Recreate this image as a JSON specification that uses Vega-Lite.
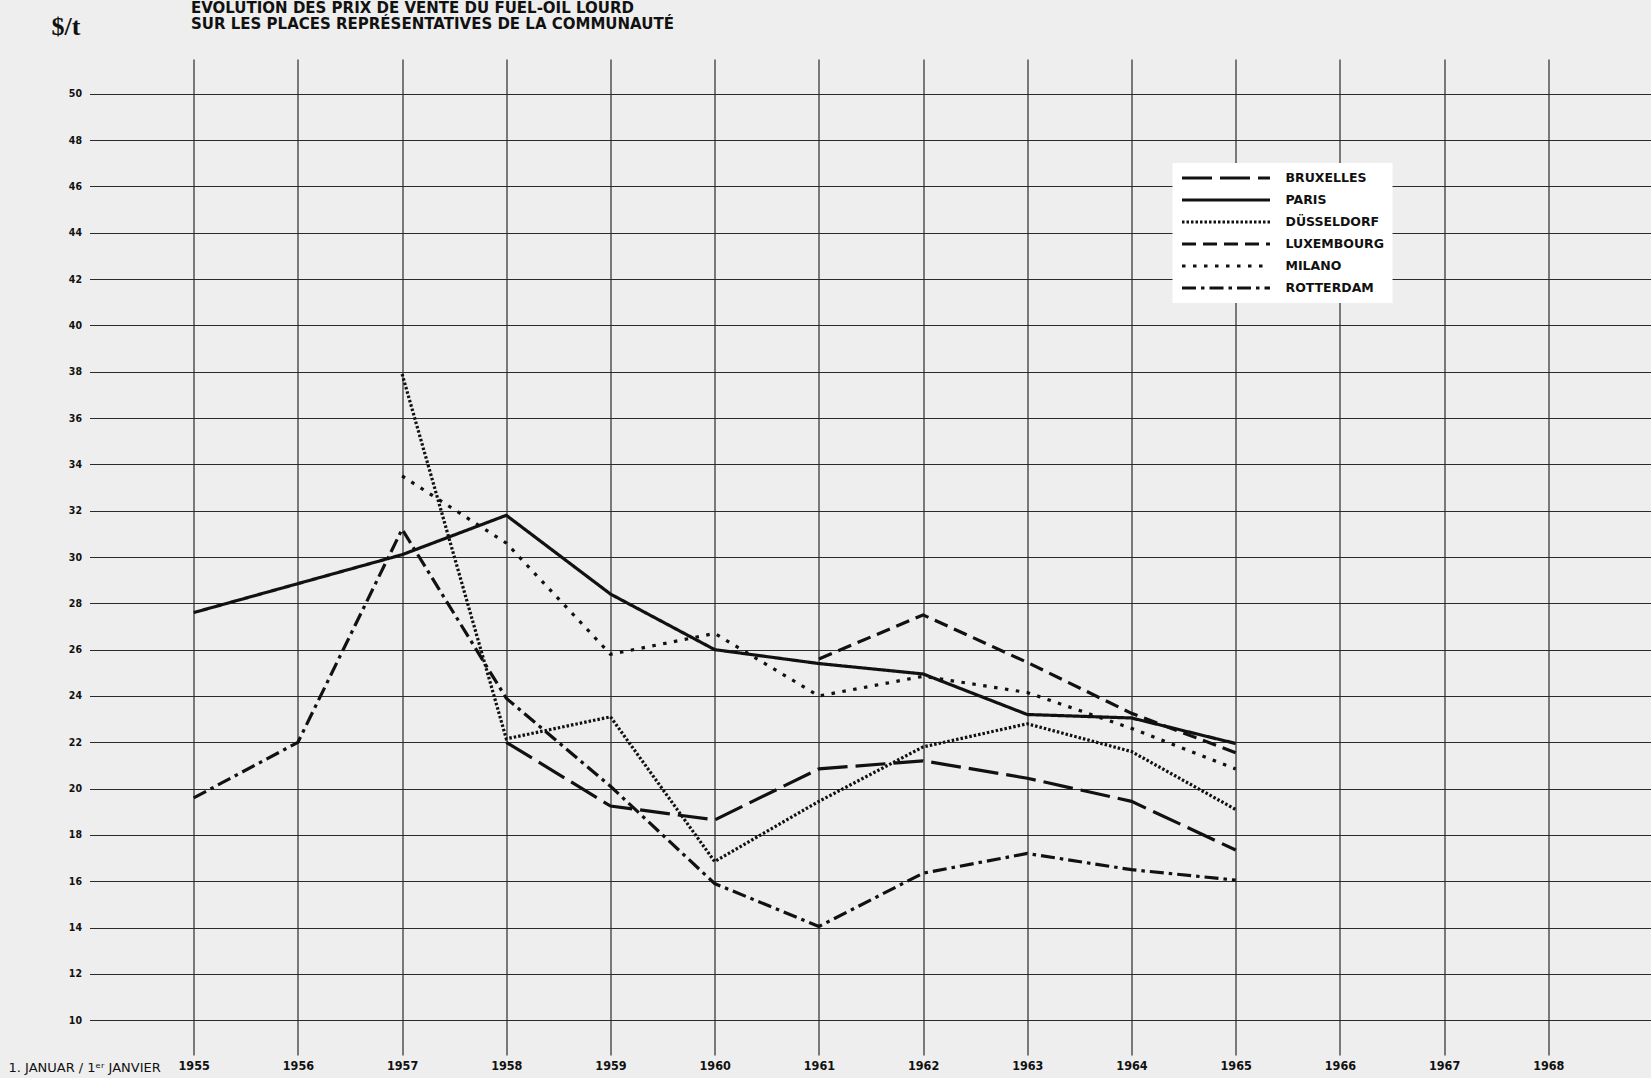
{
  "$schema": "https://vega.github.io/schema/vega-lite/v6.json",
  "width": 1563,
  "height": 996,
  "autosize": {"type": "none"},
  "padding": {"left": 89.5, "top": 59, "right": 0, "bottom": 23},
  "background": "#eeeeee",
  "config": {
    "view": {"stroke": null, "fill": "#eeeeee"},
    "axis": {"domain": false, "ticks": false, "gridColor": "#2a2a2a", "gridWidth": 1.2, "gridOpacity": 1}
  },
  "title": {
    "text": ["ÉVOLUTION DES PRIX DE VENTE DU FUEL-OIL LOURD", "SUR LES PLACES REPRÉSENTATIVES DE LA COMMUNAUTÉ"],
    "anchor": "start",
    "frame": "group",
    "dx": 101.5,
    "dy": 70,
    "font": "DejaVu Sans",
    "fontSize": 15,
    "fontWeight": "bold",
    "lineHeight": 16,
    "color": "#111111",
    "baseline": "bottom",
    "offset": 36
  },
  "data": {
    "values": [
      {"city": "PARIS", "year": 1955, "price": 27.6},
      {"city": "PARIS", "year": 1956, "price": 28.85},
      {"city": "PARIS", "year": 1957, "price": 30.1},
      {"city": "PARIS", "year": 1958, "price": 31.8},
      {"city": "PARIS", "year": 1959, "price": 28.4},
      {"city": "PARIS", "year": 1960, "price": 26.0},
      {"city": "PARIS", "year": 1961, "price": 25.4},
      {"city": "PARIS", "year": 1962, "price": 24.95},
      {"city": "PARIS", "year": 1963, "price": 23.2},
      {"city": "PARIS", "year": 1964, "price": 23.05},
      {"city": "PARIS", "year": 1965, "price": 21.95},
      {"city": "MILANO", "year": 1957, "price": 33.5},
      {"city": "MILANO", "year": 1958, "price": 30.6},
      {"city": "MILANO", "year": 1959, "price": 25.8},
      {"city": "MILANO", "year": 1960, "price": 26.7},
      {"city": "MILANO", "year": 1961, "price": 24.0},
      {"city": "MILANO", "year": 1962, "price": 24.85},
      {"city": "MILANO", "year": 1963, "price": 24.15},
      {"city": "MILANO", "year": 1964, "price": 22.6},
      {"city": "MILANO", "year": 1965, "price": 20.85},
      {"city": "DÜSSELDORF", "year": 1957, "price": 37.9},
      {"city": "DÜSSELDORF", "year": 1958, "price": 22.15},
      {"city": "DÜSSELDORF", "year": 1959, "price": 23.1},
      {"city": "DÜSSELDORF", "year": 1960, "price": 16.85},
      {"city": "DÜSSELDORF", "year": 1961, "price": 19.45},
      {"city": "DÜSSELDORF", "year": 1962, "price": 21.8},
      {"city": "DÜSSELDORF", "year": 1963, "price": 22.8},
      {"city": "DÜSSELDORF", "year": 1964, "price": 21.6},
      {"city": "DÜSSELDORF", "year": 1965, "price": 19.1},
      {"city": "ROTTERDAM", "year": 1955, "price": 19.6},
      {"city": "ROTTERDAM", "year": 1956, "price": 22.0},
      {"city": "ROTTERDAM", "year": 1957, "price": 31.2},
      {"city": "ROTTERDAM", "year": 1958, "price": 23.9},
      {"city": "ROTTERDAM", "year": 1959, "price": 20.1},
      {"city": "ROTTERDAM", "year": 1960, "price": 15.9},
      {"city": "ROTTERDAM", "year": 1961, "price": 14.05},
      {"city": "ROTTERDAM", "year": 1962, "price": 16.35},
      {"city": "ROTTERDAM", "year": 1963, "price": 17.2},
      {"city": "ROTTERDAM", "year": 1964, "price": 16.5},
      {"city": "ROTTERDAM", "year": 1965, "price": 16.05},
      {"city": "BRUXELLES", "year": 1958, "price": 22.0},
      {"city": "BRUXELLES", "year": 1959, "price": 19.25},
      {"city": "BRUXELLES", "year": 1960, "price": 18.65},
      {"city": "BRUXELLES", "year": 1961, "price": 20.85},
      {"city": "BRUXELLES", "year": 1962, "price": 21.2},
      {"city": "BRUXELLES", "year": 1963, "price": 20.45},
      {"city": "BRUXELLES", "year": 1964, "price": 19.45},
      {"city": "BRUXELLES", "year": 1965, "price": 17.35},
      {"city": "LUXEMBOURG", "year": 1961, "price": 25.6},
      {"city": "LUXEMBOURG", "year": 1962, "price": 27.5},
      {"city": "LUXEMBOURG", "year": 1963, "price": 25.45},
      {"city": "LUXEMBOURG", "year": 1964, "price": 23.25},
      {"city": "LUXEMBOURG", "year": 1965, "price": 21.55}
    ]
  },
  "mark": {"type": "line", "strokeWidth": 3.2, "color": "#111111"},
  "encoding": {
    "x": {
      "field": "year",
      "type": "quantitative",
      "scale": {"domain": [1954, 1969], "nice": false, "zero": false},
      "axis": {
        "values": [1955, 1956, 1957, 1958, 1959, 1960, 1961, 1962, 1963, 1964, 1965, 1966, 1967, 1968],
        "format": "d",
        "labelFont": "DejaVu Sans Condensed",
        "labelFontWeight": "bold",
        "labelFontSize": 12.5,
        "labelColor": "#111111",
        "labelPadding": 4,
        "labelFlush": false,
        "title": "1. JANUAR / 1ᵉʳ JANVIER",
        "titleFont": "DejaVu Sans",
        "titleFontWeight": "normal",
        "titleFontSize": 13,
        "titleColor": "#111111",
        "titleAlign": "left",
        "titleAnchor": "start",
        "titleBaseline": "middle",
        "titleX": -81.5,
        "titleY": 12
      }
    },
    "y": {
      "field": "price",
      "type": "quantitative",
      "scale": {"domain": [8.5, 51.5], "nice": false, "zero": false},
      "axis": {
        "values": [10, 12, 14, 16, 18, 20, 22, 24, 26, 28, 30, 32, 34, 36, 38, 40, 42, 44, 46, 48, 50],
        "labelFont": "DejaVu Sans Condensed",
        "labelFontWeight": "bold",
        "labelFontSize": 10.5,
        "labelColor": "#111111",
        "labelPadding": 8,
        "labelFlush": false,
        "title": "$/t",
        "titleAngle": 0,
        "titleFont": "Liberation Serif",
        "titleFontWeight": "bold",
        "titleFontSize": 26,
        "titleColor": "#111111",
        "titleAlign": "center",
        "titleBaseline": "middle",
        "titleX": -24,
        "titleY": -33
      }
    },
    "strokeDash": {
      "field": "city",
      "type": "nominal",
      "scale": {
        "domain": ["BRUXELLES", "PARIS", "DÜSSELDORF", "LUXEMBOURG", "MILANO", "ROTTERDAM"],
        "range": [[30, 8], [1, 0], [2.5, 2], [14, 7], [3.5, 7.5], [14, 5, 3.5, 5]]
      },
      "legend": {
        "title": null,
        "orient": "none",
        "legendX": 1083,
        "legendY": 104,
        "fillColor": "#ffffff",
        "padding": 8,
        "symbolType": "M-1,0H15",
        "symbolSize": 121,
        "symbolStrokeWidth": 3,
        "symbolStrokeColor": "#111111",
        "symbolFillColor": "transparent",
        "rowPadding": 8,
        "labelFont": "DejaVu Sans",
        "labelFontWeight": "bold",
        "labelFontSize": 12.5,
        "labelColor": "#111111",
        "labelOffset": 91
      }
    }
  }
}
